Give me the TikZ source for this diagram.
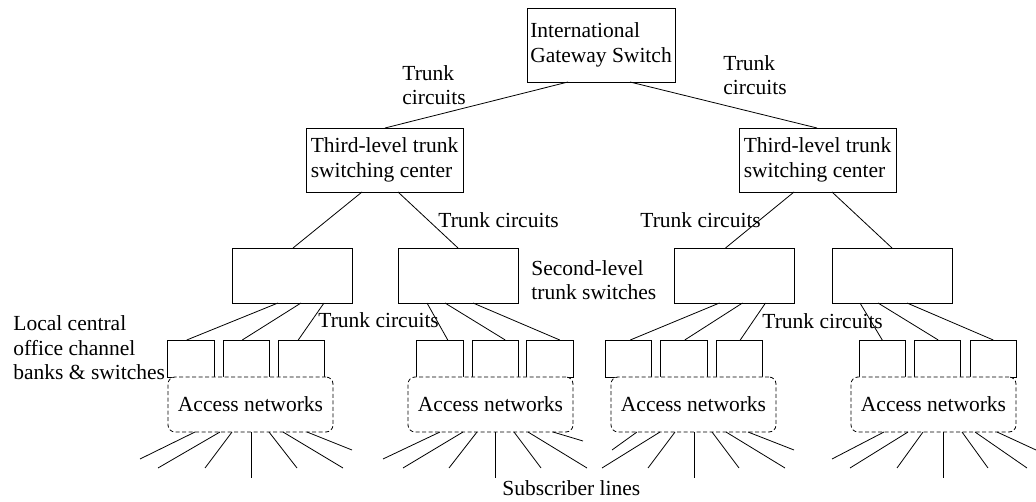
\documentclass[tikz,border=0pt]{standalone}
\usepackage{fontspec}
\setmainfont{Liberation Serif}
\begin{document}
\begin{tikzpicture}[x=1pt,y=-1pt,line width=0.8pt,
  every node/.style={font=\fontsize{21.5}{24.5}\selectfont},
  swbox/.style={draw,outer sep=0pt,inner sep=2pt,align=left},
  midbox/.style={draw,outer sep=0pt,minimum width=120pt,minimum height=55pt},
  chbox/.style={draw,outer sep=0pt,minimum width=46.5pt,minimum height=37pt},
  accbox/.style={draw,fill=white,dash pattern=on 4pt off 2.5pt,rounded corners=7pt,
    outer sep=0pt,inner sep=0pt,minimum width=165pt,minimum height=55pt},
  lbl/.style={anchor=base west,inner sep=0pt,align=left}]
\useasboundingbox (0,0) rectangle (1036,502);

% switching hierarchy
\node[swbox,minimum width=148pt,minimum height=74pt] (gw) at (601,45) {International\\Gateway Switch};
\node[swbox,minimum width=157pt,minimum height=64pt] (tl) at (384.5,160) {Third-level trunk\\switching center};
\node[swbox,minimum width=157pt,minimum height=64pt] (tr) at (817.5,160) {Third-level trunk\\switching center};

\node[midbox] (s1) at (292,275.5) {};
\node[midbox] (s2) at (458,275.5) {};
\node[midbox] (s3) at (734.5,275.5) {};
\node[midbox] (s4) at (892,275.5) {};

% local office channel banks
\node[chbox] (c11) at (191,358.5) {};
\node[chbox] (c12) at (246.5,358.5) {};
\node[chbox] (c13) at (301.5,358.5) {};
\node[chbox] (c21) at (440,358.5) {};
\node[chbox] (c22) at (495.5,358.5) {};
\node[chbox] (c23) at (550,358.5) {};
\node[chbox] (c31) at (628.5,358.5) {};
\node[chbox] (c32) at (684,358.5) {};
\node[chbox] (c33) at (739.5,358.5) {};
\node[chbox] (c41) at (882.5,358.5) {};
\node[chbox] (c42) at (937.5,358.5) {};
\node[chbox] (c43) at (993.5,358.5) {};

% access networks
\node[accbox] (a1) at (250.5,404.5) {Access networks};
\node[accbox] (a2) at (490.5,404.5) {Access networks};
\node[accbox] (a3) at (693.5,404.5) {Access networks};
\node[accbox] (a4) at (933.5,404.5) {Access networks};

% trunk circuits
\draw ([xshift=41pt]gw.south west) -- ([xshift=79pt]tl.north west);
\draw ([xshift=103pt]gw.south west) -- ([xshift=78pt]tr.north west);
\draw ([xshift=56pt]tl.south west) -- ([xshift=61pt]s1.north west);
\draw ([xshift=92pt]tl.south west) -- ([xshift=60pt]s2.north west);
\draw ([xshift=55pt]tr.south west) -- ([xshift=51pt]s3.north west);
\draw ([xshift=93pt]tr.south west) -- ([xshift=60pt]s4.north west);

\draw ([xshift=46pt]s1.south west) -- ([xshift=19pt]c11.north west);
\draw ([xshift=69pt]s1.south west) -- ([xshift=19pt]c12.north west);
\draw ([xshift=92pt]s1.south west) -- ([xshift=20pt]c13.north west);
\draw ([xshift=29pt]s2.south west) -- ([xshift=31pt]c21.north west);
\draw ([xshift=47pt]s2.south west) -- ([xshift=33pt]c22.north west);
\draw ([xshift=75pt]s2.south west) -- ([xshift=33pt]c23.north west);
\draw ([xshift=45pt]s3.south west) -- ([xshift=25pt]c31.north west);
\draw ([xshift=68pt]s3.south west) -- ([xshift=24pt]c32.north west);
\draw ([xshift=91pt]s3.south west) -- ([xshift=24pt]c33.north west);
\draw ([xshift=28pt]s4.south west) -- ([xshift=23pt]c41.north west);
\draw ([xshift=46pt]s4.south west) -- ([xshift=24pt]c42.north west);
\draw ([xshift=75pt]s4.south west) -- ([xshift=23pt]c43.north west);

% subscriber lines
\foreach \i/\dx/\ex/\ey in {1/27/140/459, 2/52/158/468, 3/64/205/468, 4/83/251/478,
    5/101/297/468, 6/115/343/468, 7/139/352/450} {
  \coordinate (u1-\i) at (\ex,\ey);
  \draw ([xshift=\dx pt]a1.south west) -- (u1-\i);
}
\foreach \i/\dx/\ex/\ey in {1/32/383/459, 2/55/403/468, 3/69/449/468, 4/87/495/478,
    5/106/541/468, 6/120/587/468, 7/145/583/441} {
  \coordinate (u2-\i) at (\ex,\ey);
  \draw ([xshift=\dx pt]a2.south west) -- (u2-\i);
}
\foreach \i/\dx/\ex/\ey in {1/26/612/450, 2/49/602/468, 3/64/648/468, 4/83/694/478,
    5/101/739/468, 6/115/785/468, 7/137/794/450} {
  \coordinate (u3-\i) at (\ex,\ey);
  \draw ([xshift=\dx pt]a3.south west) -- (u3-\i);
}
\foreach \i/\dx/\ex/\ey in {1/33/832/459, 2/57/850/468, 3/72/897/468, 4/92/943/478,
    5/111/988/468, 6/124/1027/468, 7/146/1036/450} {
  \coordinate (u4-\i) at (\ex,\ey);
  \draw ([xshift=\dx pt]a4.south west) -- (u4-\i);
}

% labels (multi-line labels are placed by the baseline of their last line)
\node[lbl] (tc1) at (402,105) {Trunk\\circuits};
\node[lbl] (tc2) at (723,95) {Trunk\\circuits};
\node[lbl] (tc3) at (438,228) {Trunk circuits};
\node[lbl] (tc4) at (640,228) {Trunk circuits};
\node[lbl] (sl) at (531,300) {Second-level\\trunk switches};
\node[lbl] (lc) at (13,380) {Local central\\office channel\\banks \& switches};
\node[lbl] (tc5) at (318,328) {Trunk circuits};
\node[lbl] (tc6) at (762,329) {Trunk circuits};
\node[lbl] (sub) at (502,495) {Subscriber lines};
\end{tikzpicture}
\end{document}
